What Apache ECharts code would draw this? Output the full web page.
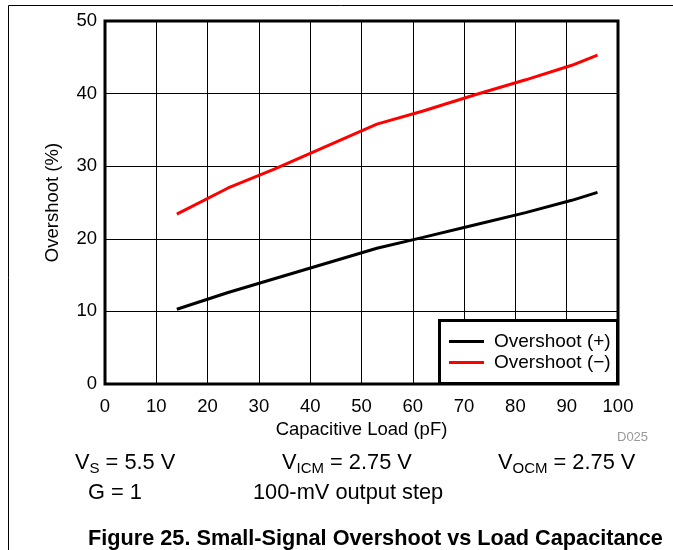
<!DOCTYPE html>
<html>
<head>
<meta charset="utf-8">
<script src="https://cdn.jsdelivr.net/npm/echarts@6/dist/echarts.min.js"></script>
<style>html,body{margin:0;padding:0;background:#fff;}#c{width:673px;height:550px;}</style>
</head>
<body>
<div id="c"></div>
<script>
var xTicks = [0, 10, 20, 30, 40, 50, 60, 70, 80, 90, 100];
var yTicks = [0, 10, 20, 30, 40, 50];
var loadPF = [14, 24, 33, 43, 53, 62, 72, 82, 91, 96];
var overshootPos = [10.3, 12.6, 14.5, 16.6, 18.7, 20.2, 21.9, 23.6, 25.3, 26.4];
var overshootNeg = [23.4, 27.0, 29.6, 32.7, 35.8, 37.6, 39.8, 41.9, 43.9, 45.3];
var seriesNames = ['Overshoot (+)', 'Overshoot (\u2212)'];

var FONT = 'Liberation Sans, Arial, sans-serif';
function pairs(xs, ys) { return xs.map(function (x, i) { return [x, ys[i]]; }); }

var chart = echarts.init(document.getElementById('c'), null, { renderer: 'canvas' });
var sub = function (size) {
  return {
    n: { fontFamily: FONT, fontSize: size, color: '#000', lineHeight: 26 },
    s: { fontFamily: FONT, fontSize: Math.round(size * 0.7), color: '#000', padding: [11, 0, 0, 0] }
  };
};
chart.setOption({
  animation: false,
  backgroundColor: '#fff',
  grid: { left: 105, right: 55, top: 21, bottom: 166, show: true, borderColor: '#000', borderWidth: 3, backgroundColor: 'transparent', containLabel: false },
  xAxis: {
    type: 'value', min: 0, max: 100, interval: 10,
    name: 'Capacitive Load (pF)', nameLocation: 'middle', nameGap: 36,
    nameTextStyle: { fontFamily: FONT, fontSize: 18.5, color: '#000' },
    axisLine: { show: false }, axisTick: { show: false },
    axisLabel: { fontFamily: FONT, fontSize: 18.5, color: '#000', margin: 13 },
    splitLine: { show: true, lineStyle: { color: '#000', width: 1 } }
  },
  yAxis: {
    type: 'value', min: 0, max: 50, interval: 10,
    name: 'Overshoot (%)', nameLocation: 'middle', nameGap: 43,
    nameTextStyle: { fontFamily: FONT, fontSize: 18.5, color: '#000' },
    axisLine: { show: false }, axisTick: { show: false },
    axisLabel: { fontFamily: FONT, fontSize: 18.5, color: '#000', margin: 8 },
    splitLine: { show: true, lineStyle: { color: '#000', width: 1 } }
  },
  legend: {
    orient: 'vertical', left: 449, top: 331, z: 10, padding: 0,
    itemWidth: 35, itemHeight: 3, itemGap: 0, icon: 'rect',
    textStyle: { fontFamily: FONT, fontSize: 19, color: '#000', lineHeight: 21, padding: [0, 0, 0, 5] },
    data: seriesNames
  },
  series: [
    { name: seriesNames[0], type: 'line', data: pairs(loadPF, overshootPos), symbol: 'none', lineStyle: { color: '#000', width: 3 }, itemStyle: { color: '#000' } },
    { name: seriesNames[1], type: 'line', data: pairs(loadPF, overshootNeg), symbol: 'none', lineStyle: { color: '#ff0000', width: 3 }, itemStyle: { color: '#ff0000' } }
  ],
  graphic: [
    { type: 'rect', z: 5, shape: { x: 439.5, y: 320.5, width: 178, height: 63 }, style: { fill: '#fff', stroke: '#000', lineWidth: 3 } },
    { type: 'line', shape: { x1: 8.5, y1: 5.5, x2: 8.5, y2: 550 }, style: { stroke: '#000', lineWidth: 1 } },
    { type: 'line', shape: { x1: 8.5, y1: 5.5, x2: 673, y2: 5.5 }, style: { stroke: '#000', lineWidth: 1 } },
    { type: 'text', left: 617, top: 431, style: { text: 'D025', font: '13px ' + FONT, fill: '#999' } },
    { type: 'text', left: 75, top: 452, style: { text: '{n|V}{s|S}{n| = 5.5 V}', rich: sub(21.8) } },
    { type: 'text', left: 282, top: 452, style: { text: '{n|V}{s|ICM}{n| = 2.75 V}', rich: sub(21.8) } },
    { type: 'text', left: 498, top: 452, style: { text: '{n|V}{s|OCM}{n| = 2.75 V}', rich: sub(21.8) } },
    { type: 'text', left: 88, top: 482, style: { text: 'G = 1', font: '21.8px ' + FONT, fill: '#000' } },
    { type: 'text', left: 253, top: 482, style: { text: '100-mV output step', font: '21.8px ' + FONT, fill: '#000' } },
    { type: 'text', left: 88, top: 528, style: { text: 'Figure 25. Small-Signal Overshoot vs Load Capacitance', font: 'bold 21.7px ' + FONT, fill: '#000' } }
  ]
});
</script>
</body>
</html>
